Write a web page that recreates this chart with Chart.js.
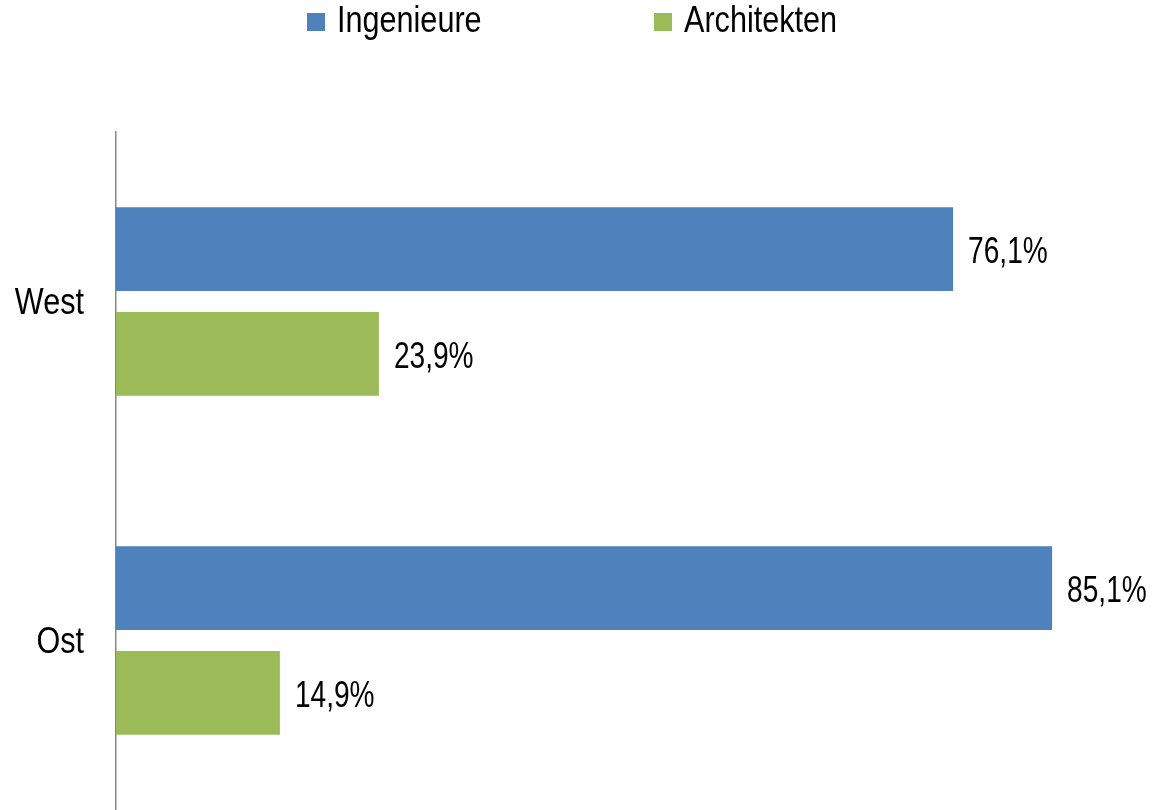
<!DOCTYPE html>
<html>
<head>
<meta charset="utf-8">
<script src="https://cdn.jsdelivr.net/npm/chart.js@4/dist/chart.umd.min.js"></script>
<style>
  html, body { margin: 0; padding: 0; background: #fff; }
  #wrap { width: 1153px; height: 810px; }
</style>
</head>
<body>
<div id="wrap"><canvas id="shareChart"></canvas></div>
<script>
// Anteil Ingenieure / Architekten nach Region
const regions = ['West', 'Ost'];
const seriesNames = ['Ingenieure', 'Architekten'];
const ingenieure = [76.1, 85.1];
const architekten = [23.9, 14.9];
const seriesColors = ['#4F81BD', '#9BBB59'];

const FONT = '"Liberation Sans", Arial, sans-serif';
const SIZE = 36;
const CAP = SIZE * 0.716;

const fmt = v => v.toFixed(1).replace('.', ',') + '%';

// text squeezed horizontally to look like a narrow face
function narrowText(ctx, text, x, y, squeeze, align) {
  ctx.save();
  ctx.font = SIZE + 'px ' + FONT;
  ctx.textBaseline = 'alphabetic';
  ctx.textAlign = align;
  ctx.translate(x, y);
  ctx.scale(squeeze, 1);
  ctx.fillText(text, 0, 0);
  ctx.restore();
}

// value labels to the right of each bar
const valueLabels = {
  id: 'valueLabels',
  afterDatasetsDraw(chart) {
    const ctx = chart.ctx;
    ctx.fillStyle = '#000';
    chart.data.datasets.forEach((ds, i) => {
      chart.getDatasetMeta(i).data.forEach((bar, j) => {
        narrowText(ctx, fmt(ds.data[j]), bar.x + 15, bar.y + CAP / 2 + 1, 0.78, 'left');
      });
    });
  }
};

// category names left of the axis, placed by the y scale
const categoryLabels = {
  id: 'categoryLabels',
  afterDraw(chart) {
    const ctx = chart.ctx;
    const y = chart.scales.y;
    ctx.fillStyle = '#000';
    chart.data.labels.forEach((label, i) => {
      narrowText(ctx, label, y.right - 32, y.getPixelForValue(i) + CAP / 2, 0.85, 'right');
    });
  }
};

// legend row at the top
const topLegend = {
  id: 'topLegend',
  afterDraw(chart) {
    const ctx = chart.ctx;
    const boxX = [307, 654];
    chart.data.datasets.forEach((ds, i) => {
      ctx.fillStyle = ds.backgroundColor;
      ctx.fillRect(boxX[i], 13, 18, 18);
      ctx.fillStyle = '#000';
      narrowText(ctx, ds.label, boxX[i] + 30, 32, 0.85, 'left');
    });
  }
};

new Chart(document.getElementById('shareChart'), {
  type: 'bar',
  data: {
    labels: regions,
    datasets: [
      { label: seriesNames[0], data: ingenieure, backgroundColor: seriesColors[0] },
      { label: seriesNames[1], data: architekten, backgroundColor: seriesColors[1] }
    ]
  },
  options: {
    indexAxis: 'y',
    responsive: true,
    maintainAspectRatio: false,
    animation: false,
    categoryPercentage: 0.618,
    barPercentage: 0.8,
    layout: { padding: { top: 132, right: 47, bottom: -2, left: 0 } },
    plugins: {
      legend: { display: false },
      tooltip: { enabled: false }
    },
    scales: {
      x: { display: false, min: 0, max: 90 },
      y: {
        grid: { display: false, drawTicks: false },
        border: { display: true, color: '#868686', width: 1.5 },
        ticks: { display: false },
        afterFit(scale) {
          scale.width = 116;
          scale.paddingTop = 0;
          scale.paddingBottom = 0;
        }
      }
    }
  },
  plugins: [valueLabels, categoryLabels, topLegend]
});
</script>
</body>
</html>
